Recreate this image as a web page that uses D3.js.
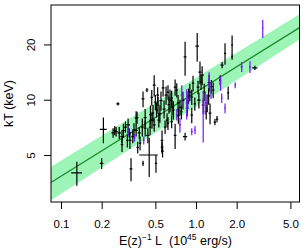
<!DOCTYPE html>
<html>
<head>
<meta charset="utf-8">
<script src="https://cdn.jsdelivr.net/npm/d3@7"></script>
<style>
body{margin:0;background:#fff;}
svg text{font-family:"Liberation Sans",Arial,sans-serif;fill:#000;}
</style>
</head>
<body>
<svg id="view" width="303" height="248"></svg>
<script>
// [L, kT, dL, dkT]
const sampleA = [
  [0.131, 4.0, 0.012, 0.6], [0.20, 4.5, 0.006, 0.3], [0.206, 6.9, 0.012, 1.1], [0.25, 6.8, 0.006, 0.4],
  [0.243, 6.6, 0.007, 0.4], [0.256, 6.7, 0.007, 0.4], [0.264, 9.5, 0.007, 0.2], [0.27, 6.6, 0.008, 0.5],
  [0.283, 6.3, 0.008, 0.5], [0.283, 5.7, 0.006, 0.5], [0.29, 6.8, 0.008, 0.6], [0.30, 7.1, 0.008, 0.5],
  [0.31, 6.0, 0.006, 0.5], [0.314, 7.3, 0.01, 0.6], [0.324, 6.0, 0.008, 0.6], [0.33, 4.2, 0.008, 0.6],
  [0.34, 6.3, 0.008, 0.5], [0.347, 6.85, 0.01, 0.6], [0.36, 7.95, 0.008, 0.7], [0.366, 8.0, 0.008, 0.6],
  [0.38, 6.6, 0.01, 0.5], [0.385, 5.8, 0.008, 0.5], [0.40, 7.1, 0.01, 0.8], [0.405, 4.5, 0.006, 0.15],
  [0.405, 10.1, 0.01, 1.0], [0.433, 11.3, 0.01, 0.3], [0.42, 8.0, 0.01, 0.9], [0.44, 6.4, 0.012, 0.6],
  [0.45, 5.0, 0.07, 1.2], [0.457, 7.1, 0.01, 0.7], [0.46, 8.3, 0.01, 1.0], [0.472, 7.75, 0.012, 0.8],
  [0.48, 8.45, 0.01, 0.9], [0.49, 12.0, 0.012, 1.6], [0.49, 7.3, 0.012, 0.6], [0.505, 4.5, 0.01, 0.5],
  [0.51, 8.8, 0.012, 0.8], [0.523, 9.36, 0.012, 1.0], [0.53, 7.75, 0.012, 0.7], [0.54, 8.4, 0.012, 0.9],
  [0.55, 9.9, 0.014, 1.2], [0.56, 6.0, 0.012, 0.8], [0.56, 5.5, 0.012, 0.4], [0.565, 5.25, 0.012, 0.4],
  [0.58, 8.9, 0.014, 1.0], [0.59, 7.1, 0.012, 0.6], [0.60, 10.6, 0.014, 1.2], [0.61, 7.75, 0.012, 0.7],
  [0.62, 7.45, 0.012, 0.6], [0.63, 9.4, 0.014, 1.0], [0.642, 9.96, 0.016, 1.4], [0.664, 9.1, 0.014, 0.9],
  [0.68, 8.8, 0.014, 1.0], [0.70, 6.4, 0.016, 1.0], [0.72, 11.3, 0.016, 1.0], [0.736, 9.6, 0.016, 1.0],
  [0.76, 9.1, 0.02, 0.9], [0.78, 8.6, 0.016, 0.8], [0.80, 9.96, 0.02, 1.1], [0.83, 6.3, 0.03, 0.3],
  [0.83, 17.1, 0.02, 3.6], [0.86, 9.0, 0.02, 0.9], [0.90, 11.0, 0.02, 1.2], [0.93, 10.35, 0.02, 1.0],
  [0.93, 8.25, 0.02, 0.8], [0.95, 12.3, 0.02, 1.2], [0.98, 9.5, 0.02, 0.8], [1.02, 19.6, 0.03, 3.5],
  [1.035, 11.7, 0.025, 1.0], [1.05, 9.96, 0.03, 1.0], [1.07, 14.15, 0.03, 2.0], [1.11, 13.6, 0.03, 1.6],
  [1.13, 9.36, 0.03, 0.8], [1.15, 11.0, 0.03, 1.2], [1.19, 8.6, 0.03, 0.8], [1.21, 9.6, 0.04, 1.0],
  [1.24, 10.5, 0.03, 1.1], [1.27, 8.45, 0.03, 1.1], [1.30, 11.8, 0.03, 1.0], [1.34, 11.3, 0.03, 1.1],
  [1.38, 7.56, 0.03, 0.3], [1.43, 7.85, 0.03, 0.3], [1.51, 12.8, 0.03, 0.8], [1.56, 15.45, 0.04, 0.6],
  [1.64, 17.9, 0.03, 2.4], [1.73, 10.9, 0.03, 0.9], [1.85, 19.9, 0.03, 2.5], [1.85, 17.1, 0.03, 0.6],
  [2.73, 14.9, 0.12, 0.4], [0.47, 10.3, 0.01, 1.0], [0.50, 9.7, 0.012, 0.9], [0.52, 10.6, 0.012, 1.1],
  [0.57, 11.6, 0.014, 1.2], [0.62, 11.0, 0.014, 1.0], [0.66, 10.2, 0.014, 1.0], [0.70, 11.7, 0.016, 1.2],
  [0.74, 8.2, 0.016, 0.8], [0.66, 7.6, 0.014, 0.6], [0.42, 7.0, 0.01, 0.7], [0.36, 6.8, 0.01, 0.5],
  [0.32, 6.6, 0.01, 0.4], [0.37, 5.5, 0.008, 0.4], [1.09, 12.5, 0.03, 1.2], [1.25, 12.4, 0.03, 1.3],
  [0.88, 10.5, 0.02, 1.0]
];
const sampleB = [
  [0.314, 6.7, 0.006, 0.4], [0.35, 6.2, 0.006, 0.3], [0.41, 6.0, 0.006, 0.3], [0.76, 7.3, 0.012, 0.7],
  [0.784, 10.6, 0.014, 1.4], [0.853, 9.6, 0.014, 1.8], [0.87, 10.0, 0.014, 1.1], [0.983, 6.84, 0.016, 0.35],
  [0.93, 6.7, 0.014, 0.3], [1.13, 8.45, 0.02, 2.6], [1.17, 9.6, 0.02, 1.3], [1.25, 12.8, 0.02, 1.3],
  [1.29, 11.3, 0.02, 1.2], [1.52, 12.3, 0.02, 1.1], [1.55, 10.2, 0.02, 0.6], [1.64, 9.0, 0.02, 0.55],
  [1.95, 12.0, 0.02, 0.45], [2.18, 15.1, 0.04, 0.95], [2.51, 15.1, 0.04, 1.1], [3.12, 24.5, 0.04, 2.8],
  [0.72, 8.3, 0.012, 0.6], [1.21, 9.9, 0.02, 0.8]
];
const fitL = [0.0843, 5.84];
const fitKT = [3.54, 24.7];
const bandLo = [2.84, 21.3];
const bandHi = [4.32, 29.2];
const xTicks = [0.1, 0.2, 0.5, 1, 2, 5];
const yTicks = [5, 10, 20];

var view = d3.select('#view');
var x = d3.scaleLog().domain([0.0843, 5.84]).range([51, 299.5]);
var y = d3.scaleLog().domain([2.774, 32.8]).range([202, 5]);

view.append('clipPath').attr('id', 'clip')
    .append('rect').attr('x', 51).attr('y', 5).attr('width', 248.5).attr('height', 197);
var plot = view.append('g').attr('clip-path', 'url(#clip)');

var band = fitL.map((l, i) => ({l: l, lo: bandLo[i], hi: bandHi[i], m: fitKT[i]}));
plot.append('path').datum(band)
    .attr('fill', '#9cf5b6')
    .attr('d', d3.area().x(d => x(d.l)).y0(d => y(d.lo)).y1(d => y(d.hi)));
plot.append('path').datum(band)
    .attr('fill', 'none').attr('stroke', '#1f8a2e').attr('stroke-width', 1.2)
    .attr('d', d3.line().x(d => x(d.l)).y(d => y(d.m)));

function bars(data, color) {
    var g = plot.append('g').attr('stroke', color).attr('stroke-width', 1.2);
    g.selectAll('line.h').data(data).enter().append('line')
        .attr('x1', d => x(d[0] - d[2])).attr('x2', d => x(d[0] + d[2]))
        .attr('y1', d => y(d[1])).attr('y2', d => y(d[1]));
    g.selectAll('line.v').data(data).enter().append('line')
        .attr('x1', d => x(d[0])).attr('x2', d => x(d[0]))
        .attr('y1', d => y(d[1] - d[3])).attr('y2', d => y(d[1] + d[3]));
}
bars(sampleA, '#000');
bars(sampleB, '#7418f5');

view.append('rect').attr('x', 51).attr('y', 5).attr('width', 248.5).attr('height', 197)
    .attr('fill', 'none').attr('stroke', '#000').attr('stroke-width', 1);

var xa = view.append('g').attr('transform', 'translate(0,202)')
    .call(d3.axisBottom(x).tickValues(xTicks).tickFormat(d3.format('.1f')).tickSize(7).tickPadding(11));
xa.select('.domain').remove();
xa.selectAll('text').attr('font-size', 11.5).attr('font-family', '"Liberation Sans",Arial,sans-serif');

var ya = view.append('g').attr('transform', 'translate(51,0)')
    .call(d3.axisLeft(y).tickValues(yTicks).tickFormat(d => d).tickSize(7));
ya.select('.domain').remove();
ya.selectAll('text')
    .attr('x', null).attr('dy', null)
    .attr('transform', 'translate(-16.5,0) rotate(-90)')
    .attr('text-anchor', 'middle')
    .attr('font-size', 11.5).attr('font-family', '"Liberation Sans",Arial,sans-serif');

view.append('text').attr('transform', 'translate(13,103.5) rotate(-90)')
    .attr('text-anchor', 'middle').attr('font-size', 12.5).text('kT (keV)');

var xt = view.append('text').attr('x', 175.5).attr('y', 245)
    .attr('text-anchor', 'middle').attr('font-size', 12.5);
xt.append('tspan').text('E(z)');
xt.append('tspan').attr('dy', -5).attr('font-size', 8.5).text('\u22121');
xt.append('tspan').attr('dy', 5).text(' L\u00a0 (10');
xt.append('tspan').attr('dy', -5).attr('font-size', 8.5).text('45');
xt.append('tspan').attr('dy', 5).text(' erg/s)');
</script>
</body>
</html>
